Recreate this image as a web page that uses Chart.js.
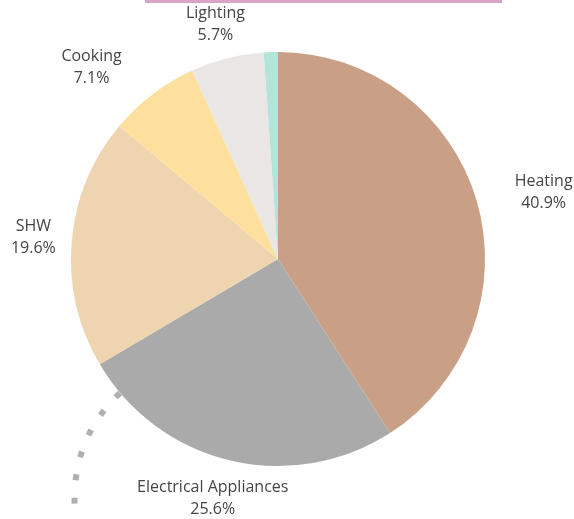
<!DOCTYPE html>
<html>
<head>
<meta charset="utf-8">
<script src="https://cdn.jsdelivr.net/npm/chart.js@4"></script>
<style>
  html, body { margin: 0; padding: 0; background: #fff; }
  #wrap { position: relative; width: 574px; height: 519px; }
  #topbar { position: absolute; left: 145px; top: 0; width: 357px; height: 3px; background: #d9a5c5; }
</style>
</head>
<body>
<div id="wrap">
  <canvas id="pieChart" width="574" height="519"></canvas>
  <div id="topbar"></div>
</div>
<script>
  /* dati del grafico */
  const categories = ["Heating", "Electrical Appliances", "SHW", "Cooking", "Lighting", "Other"];
  const shares = [40.9, 25.6, 19.6, 7.1, 5.7, 1.1];
  const showLabel = [true, true, true, true, true, false];
  const sliceColors = ["#c9a085", "#aaaaaa", "#eed5b0", "#fde09e", "#ebe6e6", "#b4e3da"];

  /* piccoli spostamenti delle etichette, come nel riferimento */
  const labelNudge = { 0: [22, 3], 1: [4, 0], 2: [2, -1], 3: [-32, 4], 4: [0, 4] };

  const outsideLabels = {
    id: "outsideLabels",
    afterDraw(chart) {
      const ctx = chart.ctx;
      const meta = chart.getDatasetMeta(0);
      ctx.save();
      ctx.font = "16px 'Open Sans', sans-serif";
      ctx.fillStyle = "#454545";
      ctx.textAlign = "center";
      ctx.textBaseline = "middle";
      meta.data.forEach((arc, i) => {
        if (!showLabel[i]) return;
        const mid = (arc.startAngle + arc.endAngle) / 2;
        const dx = Math.cos(mid), dy = Math.sin(mid);
        const lines = [categories[i], shares[i].toFixed(1) + "%"];
        const w = Math.max(...lines.map(t => ctx.measureText(t).width));
        const h = 42;
        const r = arc.outerRadius + 18;
        let x = arc.x + dx * r + dx * w / 2;
        let y = arc.y + dy * r + dy * h / 2;
        const n = labelNudge[i];
        if (n) { x += n[0]; y += n[1]; }
        ctx.fillText(lines[0], x, y - 11);
        ctx.fillText(lines[1], x, y + 11);
      });

      /* linea tratteggiata in basso a sinistra */
      ctx.strokeStyle = "#b0b0b0";
      ctx.lineWidth = 6;
      ctx.setLineDash([6, 17.5]);
      ctx.beginPath();
      ctx.moveTo(120, 393);
      ctx.quadraticCurveTo(70, 440, 75, 512);
      ctx.stroke();
      ctx.restore();
    }
  };

  const ctx = document.getElementById("pieChart").getContext("2d");
  new Chart(ctx, {
    type: "pie",
    data: {
      labels: categories,
      datasets: [{
        data: shares,
        backgroundColor: sliceColors,
        borderWidth: 0
      }]
    },
    options: {
      responsive: false,
      animation: false,
      layout: { padding: { left: 71, right: 89, top: 52, bottom: 53 } },
      plugins: {
        legend: { display: false },
        tooltip: { enabled: false }
      }
    },
    plugins: [outsideLabels]
  });
</script>
</body>
</html>
